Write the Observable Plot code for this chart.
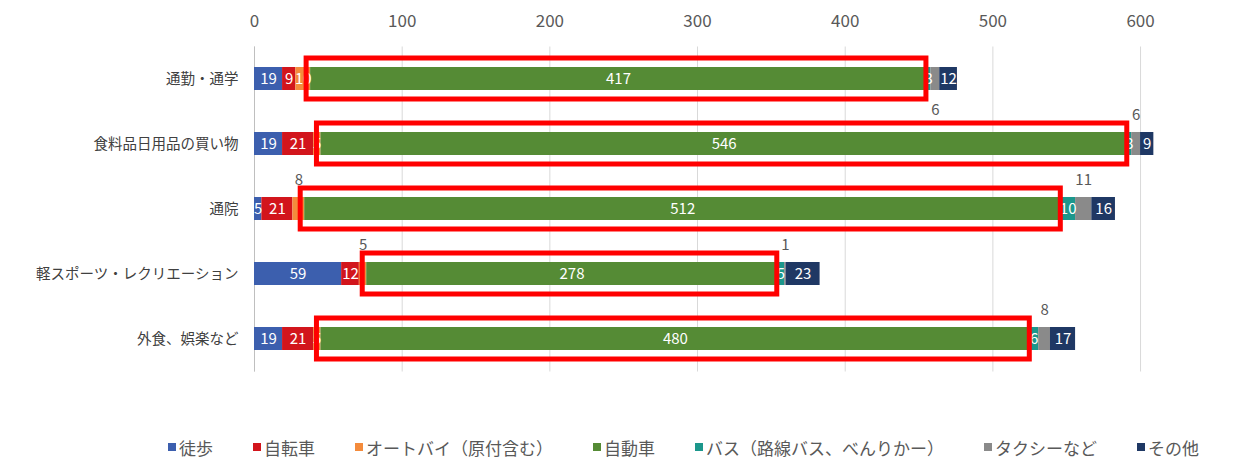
<!DOCTYPE html>
<html><head><meta charset="utf-8">
<script src="https://cdn.jsdelivr.net/npm/d3@7"></script>
<script src="https://cdn.jsdelivr.net/npm/@observablehq/plot@0.6"></script>
<style>
html,body{margin:0;padding:0;background:#fff;}
body{font-family:"Noto Sans CJK JP","Noto Sans",sans-serif;width:1239px;height:461px;overflow:hidden;}
#legend{display:flex;align-items:center;height:44px;padding-left:168px;gap:40px;font-size:17px;color:#595959;white-space:nowrap;}
#legend .item{display:flex;align-items:center;}
#legend .sw{width:8px;height:8px;margin-right:3px;display:inline-block;}
</style></head><body>
<div id="chart"></div>
<div id="legend"></div>
<script>
const categories = ["通勤・通学","食料品日用品の買い物","通院","軽スポーツ・レクリエーション","外食、娯楽など"];
const modes = ["徒歩","自転車","オートバイ（原付含む）","自動車","バス（路線バス、べんりかー）","タクシーなど","その他"];
const walk  = [19, 19, 5, 59, 19];
const bike  = [9, 21, 21, 12, 21];
const moto  = [10, 5, 8, 5, 5];
const car   = [417, 546, 512, 278, 480];
const bus   = [3, 3, 10, 5, 6];
const taxi  = [6, 6, 11, 1, 8];
const other = [12, 9, 16, 23, 17];
const colors = ["#3c5fae","#d2151c","#f48b3c","#558b35","#1c978c","#8a8a8a","#1f3864"];
const xTicks = [0,100,200,300,400,500,600];
// labels shown outside the bar: [category index, mode index, side]
const outsideLabels = [[0,5,"below"],[1,5,"above"],[2,2,"above"],[2,5,"above"],[3,2,"above"],[3,5,"above"],[4,5,"above"]];

const series = [walk, bike, moto, car, bus, taxi, other];
const rows = [];
categories.forEach((c, i) => {
  modes.forEach((m, j) => {
    const o = outsideLabels.find(d => d[0] === i && d[1] === j);
    rows.push({cat: c, mode: m, value: series[j][i], side: o ? o[2] : "inside"});
  });
});

const chart = Plot.plot({
  width: 1239,
  height: 425,
  marginLeft: 254,
  marginRight: 0,
  marginTop: 46.5,
  marginBottom: 53.5,
  style: {fontFamily: '"Noto Sans CJK JP","Noto Sans",sans-serif', background: "#fff"},
  x: {domain: [0, 667]},
  y: {domain: categories, paddingInner: 0.64, paddingOuter: 0.32},
  color: {domain: modes, range: colors},
  marks: [
    Plot.gridX(xTicks, {stroke: "#d9d9d9", strokeOpacity: 1}),
    Plot.ruleX([0], {stroke: "#bfbfbf"}),
    Plot.axisX(xTicks, {anchor: "top", tickSize: 0, tickPadding: 20, fontSize: 17, fill: "#595959", label: null}),
    Plot.axisY({tickSize: 0, tickPadding: 16, fontSize: 14.5, fill: "#404040", label: null}),
    Plot.barX(rows, Plot.stackX({x: "value", y: "cat", fill: "mode"})),
    Plot.text(rows, Plot.stackX({x: "value", y: "cat", text: d => d.side === "inside" ? String(d.value) : "", fill: "white", fontSize: 15})),
    Plot.text(rows, Plot.stackX({x: "value", y: "cat", text: d => d.side === "above" ? String(d.value) : "", fill: "#595959", fontSize: 15, dy: -29})),
    Plot.text(rows, Plot.stackX({x: "value", y: "cat", text: d => d.side === "below" ? String(d.value) : "", fill: "#595959", fontSize: 15, dy: 31})),
    Plot.barX(rows, Plot.stackX({x: "value", y: "cat", fill: "none", stroke: "#ff0000", strokeWidth: 5,
      strokeOpacity: d => d.mode === modes[3] ? 1 : 0, insetTop: -9, insetBottom: -9, insetLeft: -4}))
  ]
});
document.getElementById("chart").appendChild(chart);

const legend = document.getElementById("legend");
modes.forEach((m, j) => {
  const it = document.createElement("div");
  it.className = "item";
  const sw = document.createElement("span");
  sw.className = "sw";
  sw.style.background = colors[j];
  it.appendChild(sw);
  it.appendChild(document.createTextNode(m));
  legend.appendChild(it);
});
</script>
</body></html>
